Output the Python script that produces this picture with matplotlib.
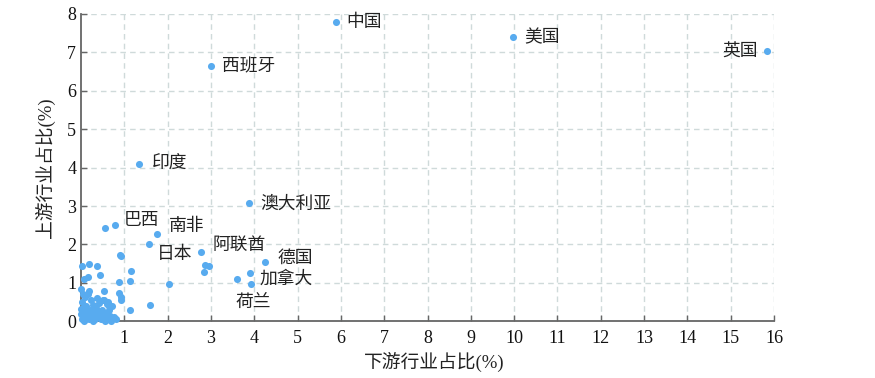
import matplotlib
matplotlib.use('Agg')
import matplotlib.pyplot as plt

plt.rcParams['font.family'] = ['Liberation Serif', 'Noto Sans CJK SC', 'DejaVu Sans']

# ---------- data ----------
# labelled countries: (name, downstream %, upstream %)
label_names = ['中国', '美国', '英国', '西班牙', '印度', '澳大利亚', '巴西', '南非',
               '日本', '阿联酋', '德国', '加拿大', '荷兰']
label_x = [5.89, 9.98, 15.84, 3.00, 1.34, 3.88, 0.79, 1.75, 1.57, 2.78, 4.25, 3.89, 3.60]
label_y = [7.79, 7.40, 7.03, 6.64, 4.09, 3.07, 2.50, 2.26, 2.00, 1.80, 1.55, 1.26, 1.09]

# other unlabelled countries
other_x = [0.56, 2.86, 2.96, 2.83, 3.93, 2.03, 1.60, 1.12, 1.15, 1.12, 0.89, 0.93,
           0.88, 0.88, 0.92, 0.92, 0.02, 0.19, 0.36, 0.08, 0.17, 0.44, 0.00, 0.19,
           0.53, 0.71, 0.63, 0.54, 0.65,
           0.02, 0.05, 0.08, 0.10, 0.12, 0.03, 0.06, 0.15, 0.18, 0.20, 0.22, 0.25,
           0.28, 0.30, 0.33, 0.35, 0.38, 0.40, 0.42, 0.45, 0.48, 0.50, 0.52, 0.55,
           0.58, 0.62, 0.65, 0.70, 0.75, 0.04, 0.09, 0.15, 0.00, 0.01, 0.07, 0.13,
           0.17, 0.24, 0.27, 0.32, 0.36, 0.44, 0.60, 0.80, 0.68]
other_y = [2.44, 1.47, 1.44, 1.29, 0.98, 0.98, 0.43, 0.29, 1.32, 1.04, 1.73, 1.69,
           1.02, 0.74, 0.63, 0.55, 1.43, 1.49, 1.43, 1.11, 1.15, 1.20, 0.83, 0.80,
           0.80, 0.41, 0.50, 0.55, 0.39,
           0.05, 0.12, 0.02, 0.25, 0.40, 0.50, 0.35, 0.15, 0.05, 0.30, 0.55, 0.10,
           0.42, 0.20, 0.05, 0.35, 0.60, 0.15, 0.48, 0.05, 0.30, 0.55, 0.12, 0.02,
           0.22, 0.05, 0.30, 0.02, 0.10, 0.70, 0.62, 0.72, 0.20, 0.32, 0.18, 0.08,
           0.28, 0.22, 0.00, 0.28, 0.12, 0.25, 0.45, 0.05, 0.15]

# label offsets in points (dx, dy, ha)
label_offsets = {
    '中国': (7, 0, 'left'), '美国': (8, 0, 'left'), '英国': (-7, 0, 'right'),
    '西班牙': (8, 0, 'left'), '印度': (9, 0, 'left'), '澳大利亚': (8, 0, 'left'),
    '巴西': (6, 4, 'left'), '南非': (9, 6, 'left'), '日本': (6, -7, 'left'),
    '阿联酋': (8, 5, 'left'), '德国': (9, 3, 'left'), '加拿大': (7, -4, 'left'),
    '荷兰': (-1, -16, 'left'),
}

color = '#58abef'

fig = plt.figure(figsize=(8.75, 3.78), dpi=100)
ax = fig.add_axes([0.0926, 0.150, 0.792, 0.813])

ax.scatter(other_x, other_y, s=26, color=color, linewidths=0, zorder=3, clip_on=False)
ax.scatter(label_x, label_y, s=26, color=color, linewidths=0, zorder=3, clip_on=False)

for name, x, y in zip(label_names, label_x, label_y):
    dx, dy, ha = label_offsets[name]
    ax.annotate(name, (x, y), xytext=(dx, dy), textcoords='offset points',
                ha=ha, va='center', fontsize=12.8, color='#222222',
                family=['Noto Sans CJK SC'])

ax.set_xlim(0, 16)
ax.set_ylim(0, 8)
ax.set_xticks(range(1, 17))
ax.set_yticks(range(0, 9))
ax.tick_params(direction='in', length=4, width=1, colors='#666666',
               labelcolor='#111111', labelsize=13)
ax.tick_params(axis='x', pad=6)
ax.grid(True, linestyle=(0, (4, 3)), color='#cfdada', linewidth=1, zorder=0)
ax.set_axisbelow(True)

for side in ['top', 'right']:
    ax.spines[side].set_visible(False)
for side in ['left', 'bottom']:
    ax.spines[side].set_color('#666666')
    ax.spines[side].set_linewidth(1.3)

ax.set_xlabel('下游行业占比(%)', fontsize=13.5, color='#222222', labelpad=2)
ax.xaxis.set_label_coords(0.51, -0.10)
ax.set_ylabel('上游行业占比(%)', fontsize=13.5, color='#222222', labelpad=9)

fig.savefig('out.png', dpi=100)
